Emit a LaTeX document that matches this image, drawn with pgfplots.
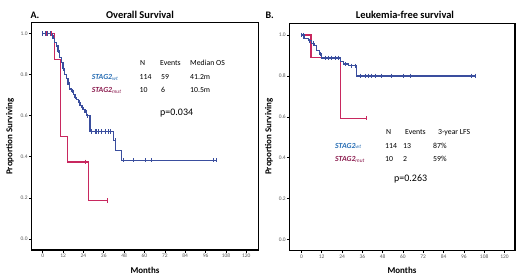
\documentclass[border=0pt]{standalone}
\usepackage{fontspec}
\setmainfont{Carlito}
\usepackage{pgfplots}
\pgfplotsset{compat=1.18}
\definecolor{wtline}{RGB}{58,78,158}
\definecolor{mutline}{RGB}{200,40,95}
\definecolor{wttext}{RGB}{40,110,180}
\definecolor{muttext}{RGB}{140,30,80}
\definecolor{ticktext}{RGB}{90,90,90}
\pgfplotsset{km/.style={scale only axis, anchor=south west,
  ymin=-0.054, ymax=1.055,
  xtick={0,12,24,36,48,60,72,84,96,108,120},
  ytick={0,0.2,0.4,0.6,0.8,1.0},
  axis line style={line width=1.3bp},
  tick style={line width=0.6bp, black},
  major tick length=2.5bp, tick align=outside,
  xtick pos=bottom, ytick pos=left,
  /pgf/number format/assume math mode=true,
  tick label style={font=\fontsize{5.5}{6}\selectfont, text=ticktext},
  yticklabel style={/pgf/number format/fixed, /pgf/number format/fixed zerofill, /pgf/number format/precision=1, inner sep=1bp},
  xticklabel style={inner sep=1.5bp},
  clip=false},
  wt/.style={const plot, color=wtline, line width=1.3bp, mark=none},
  mut/.style={const plot, color=mutline, line width=1.3bp, mark=none},
  wtc/.style={only marks, mark=|, mark size=2.2bp, color=wtline, mark options={line width=0.8bp}},
  mutc/.style={only marks, mark=|, mark size=2.2bp, color=mutline, mark options={line width=0.8bp}}
}
\newcommand{\tb}{\fontsize{7.8}{9}\selectfont}
\begin{document}
\begin{tikzpicture}[x=1bp,y=1bp]
\path[use as bounding box] (0,0) rectangle (520,278);
% ---------- Panel A ----------
\begin{axis}[km, at={(31.3bp,28bp)}, width=227.4bp, height=227.7bp, xmin=-6.7, xmax=127.3]
\addplot[mut] coordinates {(0,1)(7,0.875)(10.5,0.5)(14.7,0.375)(26.9,0.1875)(38.3,0.1875)};
\addplot[mutc] coordinates {(2.4,1)(5,1)(24.9,0.375)(38.3,0.1875)};
\addplot[wt] coordinates {(0,1.0)(5,0.99)(6,0.975)(7,0.955)(8,0.94)(9,0.915)(10,0.885)(11,0.86)(12,0.83)(13,0.80)(14,0.78)(15,0.755)(16,0.73)(17,0.72)(18,0.705)(19,0.69)(20,0.68)(21,0.665)(22,0.65)(23,0.64)(24,0.63)(25,0.615)(26,0.60)(27.9,0.524)(41.6,0.479)(43.1,0.43)(46.4,0.383)(102.4,0.383)};
\addplot[wtc] coordinates {(0,1)(1.4,1)(2.7,1)(4.3,1)(5.5,0.99)(9.5,0.915)(12.5,0.83)(15.5,0.755)(17.5,0.72)(19.5,0.69)(21.5,0.665)(23.5,0.64)(25.5,0.615)(26.5,0.6)(28.9,0.524)(30.8,0.524)(31.8,0.524)(32.8,0.524)(34.8,0.524)(36.7,0.524)(38.7,0.524)(39.7,0.524)(42.6,0.479)(47.5,0.383)(53.4,0.383)(60.7,0.383)(64.2,0.383)(100.6,0.383)(102.1,0.383)};
\end{axis}
% ---------- Panel B ----------
\begin{axis}[km, at={(289.4bp,27.5bp)}, width=225.7bp, height=226.7bp, xmin=-7.1, xmax=126.3]
\addplot[mut] coordinates {(0,1)(5.7,0.889)(22.9,0.593)(38.3,0.593)};
\addplot[mutc] coordinates {(1,1)(38.3,0.593)};
\addplot[wt] coordinates {(0,1)(1.5,0.983)(4,0.972)(6.1,0.96)(7.5,0.948)(9.1,0.923)(10.5,0.907)(12,0.888)(22.9,0.871)(24.8,0.858)(27.8,0.85)(32.7,0.80)(102.7,0.80)};
\addplot[wtc] coordinates {(0,1)(1,1)(5,0.972)(7,0.96)(11,0.907)(14,0.888)(16,0.888)(18,0.888)(19.9,0.888)(21.9,0.888)(25.8,0.858)(29.8,0.85)(31.7,0.85)(34.7,0.8)(37.6,0.8)(39.6,0.8)(41.6,0.8)(43.6,0.8)(47.5,0.8)(53.4,0.8)(60.3,0.8)(64.2,0.8)(100.7,0.8)(102.6,0.8)};
\end{axis}
% ---------- titles and labels ----------
\node[anchor=west, font=\fontsize{10}{12}\selectfont\bfseries] at (27,263) {A.};
\node[font=\fontsize{10.5}{12}\selectfont\bfseries] at (140,263) {Overall Survival};
\node[anchor=west, font=\fontsize{10}{12}\selectfont\bfseries] at (262,263) {B.};
\node[font=\fontsize{10.5}{12}\selectfont\bfseries] at (405,263) {Leukemia-free survival};
\node[rotate=90, font=\fontsize{9}{11}\selectfont\bfseries] at (10,141.5) {Proportion Surviving};
\node[rotate=90, font=\fontsize{9}{11}\selectfont\bfseries] at (269,141.5) {Proportion Surviving};
\node[font=\fontsize{9}{11}\selectfont\bfseries] at (145,7.5) {Months};
\node[font=\fontsize{9}{11}\selectfont\bfseries] at (402,7.5) {Months};
% ---------- panel A table ----------
\begin{scope}[every node/.style={anchor=base west, inner sep=0pt, font=\tb}]
\node at (140,212.5) {N};
\node at (160,212.5) {Events};
\node at (190,212.5) {Median OS};
\node[text=wttext] at (91.7,198.7) {\textbf{\textit{STAG2}}\textsubscript{\textit{wt}}};
\node at (139.5,198.7) {114};
\node at (161,198.7) {59};
\node at (190,198.7) {41.2m};
\node[text=muttext] at (91.7,185.5) {\textbf{\textit{STAG2}}\textsubscript{\textit{mut}}};
\node at (139.5,185.5) {10};
\node at (161,185.5) {6};
\node at (190,185.5) {10.5m};
\node[font=\fontsize{10}{12}\selectfont] at (160,163) {p=0.034};
% ---------- panel B table ----------
\node at (386,144) {N};
\node at (405,144) {Events};
\node at (438,144) {3-year LFS};
\node[text=wttext] at (335,130) {\textbf{\textit{STAG2}}\textsubscript{\textit{wt}}};
\node at (385,130) {114};
\node at (403,130) {13};
\node at (433,130) {87\%};
\node[text=muttext] at (335,116.5) {\textbf{\textit{STAG2}}\textsubscript{\textit{mut}}};
\node at (385,116.5) {10};
\node at (403,116.5) {2};
\node at (433,116.5) {59\%};
\node[font=\fontsize{10}{12}\selectfont] at (394,96.5) {p=0.263};
\end{scope}
\end{tikzpicture}
\end{document}
